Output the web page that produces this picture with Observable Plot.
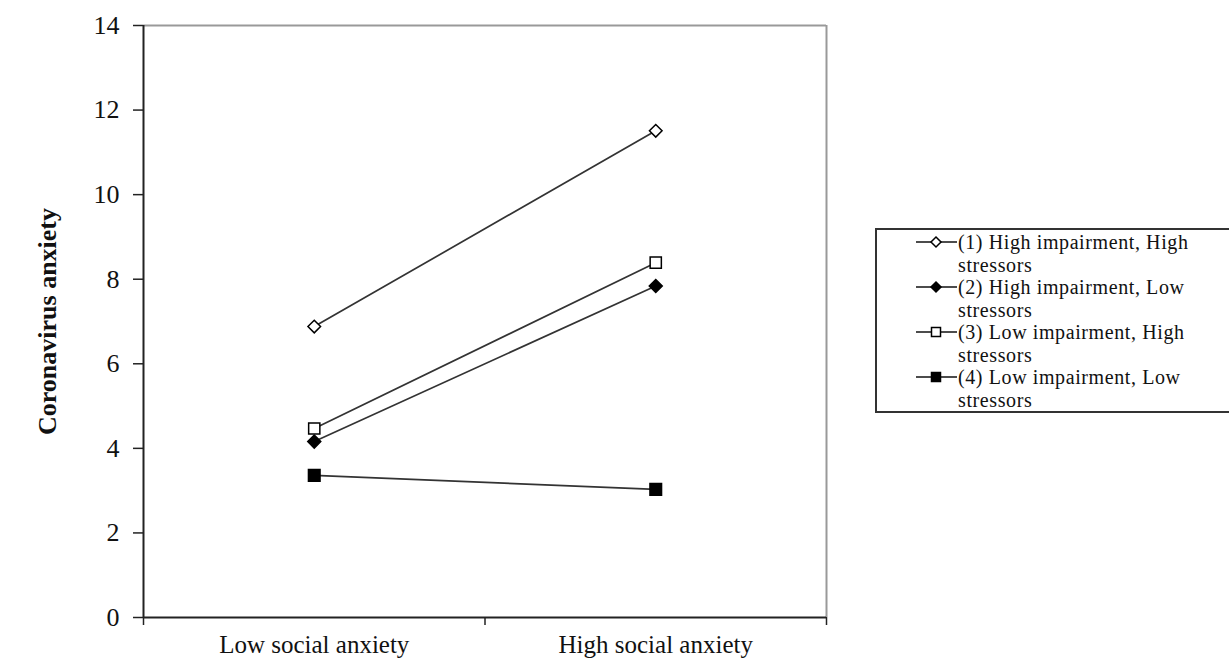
<!DOCTYPE html>
<html>
<head>
<meta charset="utf-8">
<script src="https://cdn.jsdelivr.net/npm/d3@7"></script>
<script src="https://cdn.jsdelivr.net/npm/@observablehq/plot@0.6"></script>
<style>
  html, body { margin: 0; padding: 0; background: #fff; overflow: hidden; }
  #wrap { position: relative; width: 1229px; height: 663px; }
  #legend { position: absolute; left: 875px; top: 228px; width: 380px; height: 185px;
    border: 2px solid #333; border-right: none; box-sizing: border-box;
    font-family: "Liberation Serif", "Times New Roman", serif; font-size: 20px; color: #111; }
  .item { position: absolute; left: 81px; line-height: 22.5px; letter-spacing: 0.6px; }
  .item svg { position: absolute; left: -42px; top: 2px; }
</style>
</head>
<body>
<div id="wrap"><div id="legend"></div></div>
<script>
const categories = ["Low social anxiety", "High social anxiety"];
const seriesNames = [
  "(1) High impairment, High stressors",
  "(2) High impairment, Low stressors",
  "(3) Low impairment, High stressors",
  "(4) Low impairment, Low stressors"
];
const legendLines = [
  ["(1) High impairment, High", "stressors"],
  ["(2) High impairment, Low", "stressors"],
  ["(3) Low impairment, High", "stressors"],
  ["(4) Low impairment, Low", "stressors"]
];
const series1 = [6.88, 11.51];
const series2 = [4.16, 7.84];
const series3 = [4.47, 8.39];
const series4 = [3.36, 3.03];
const yTicks = [0, 2, 4, 6, 8, 10, 12, 14];
const yLabel = "Coronavirus anxiety";

// custom symbols: size is r²π, so r = sqrt(size/π) is half-width
const diamondSym = {draw(ctx, size) { const r = Math.sqrt(size / Math.PI);
  ctx.moveTo(0, -r); ctx.lineTo(r, 0); ctx.lineTo(0, r); ctx.lineTo(-r, 0); ctx.closePath(); }};
const squareSym = {draw(ctx, size) { const r = Math.sqrt(size / Math.PI);
  ctx.rect(-r, -r, 2 * r, 2 * r); }};

const symbols = [diamondSym, diamondSym, squareSym, squareSym];
const radii = [6.3, 6.5, 5.6, 5.8];
const fills = ["white", "black", "white", "black"];
const allValues = [series1, series2, series3, series4];

const data = [];
allValues.forEach((vals, s) => {
  vals.forEach((v, i) => data.push({series: seriesNames[s], s, xi: i + 0.5, cat: categories[i], value: v}));
});

const font = '"Liberation Serif", "Times New Roman", serif';

const chart = Plot.plot({
  width: 1229,
  height: 663,
  marginLeft: 143,
  marginRight: 403,
  marginTop: 25,
  marginBottom: 46,
  style: {fontFamily: font, fontSize: "24px", color: "#111", background: "white", overflow: "visible"},
  x: {domain: [0, 2], axis: null},
  y: {domain: [0, 14], axis: null},
  marks: [
    Plot.ruleY([14], {stroke: "#999", strokeWidth: 2}),
    Plot.ruleX([2], {stroke: "#999", strokeWidth: 2}),
    Plot.axisY({ticks: yTicks, tickSize: 10, tickPadding: 14, stroke: "#222", strokeWidth: 1.5,
      fontSize: 26, label: null, style: "letter-spacing: 0.8px"}),
    Plot.axisX({ticks: [0, 1, 2], tickSize: 8, tickFormat: () => "", stroke: "#222", strokeWidth: 1.5, label: null}),
    Plot.axisX({ticks: [0.5, 1.5], tickSize: 0, tickPadding: 18, tickFormat: d => categories[Math.floor(d)],
      fontSize: 25, label: null, style: "letter-spacing: 0.8px"}),
    Plot.ruleX([0], {stroke: "#222", strokeWidth: 2}),
    Plot.ruleY([0], {stroke: "#222", strokeWidth: 2}),
    Plot.text([yLabel], {frameAnchor: "left", textAnchor: "middle", rotate: -90, dx: -96,
      fontSize: 26, fontWeight: "bold", fill: "#111"}),
    Plot.line(data, {x: "xi", y: "value", z: "series", stroke: "#333", strokeWidth: 1.7}),
    ...[0, 1, 2, 3].map(s => Plot.dot(data.filter(d => d.s === s), {
      x: "xi", y: "value", symbol: symbols[s], r: radii[s],
      fill: fills[s], stroke: "black", strokeWidth: 1.5
    }))
  ]
});
document.getElementById("wrap").prepend(chart);
chart.style.position = "absolute";
chart.style.left = "0";
chart.style.top = "0";

const legend = document.getElementById("legend");
legendLines.forEach((lines, s) => {
  const item = document.createElement("div");
  item.className = "item";
  item.style.top = (1 + s * 45) + "px";
  item.innerHTML = lines.join("<br>");
  const ns = "http://www.w3.org/2000/svg";
  const svg = document.createElementNS(ns, "svg");
  svg.setAttribute("width", 42); svg.setAttribute("height", 18);
  const line = document.createElementNS(ns, "line");
  line.setAttribute("x1", 0); line.setAttribute("x2", 41); line.setAttribute("y1", 9); line.setAttribute("y2", 9);
  line.setAttribute("stroke", "#111"); line.setAttribute("stroke-width", 1.5);
  svg.appendChild(line);
  const p = document.createElementNS(ns, "path");
  const r = s < 2 ? 5 : 4.5;
  p.setAttribute("d", s < 2 ? `M0,${-r}L${r},0L0,${r}L${-r},0Z` : `M${-r},${-r}h${2*r}v${2*r}h${-2*r}Z`);
  p.setAttribute("transform", "translate(20,9)");
  p.setAttribute("fill", fills[s]); p.setAttribute("stroke", "black"); p.setAttribute("stroke-width", 1.5);
  svg.appendChild(p);
  item.prepend(svg);
  legend.appendChild(item);
});
</script>
</body>
</html>
